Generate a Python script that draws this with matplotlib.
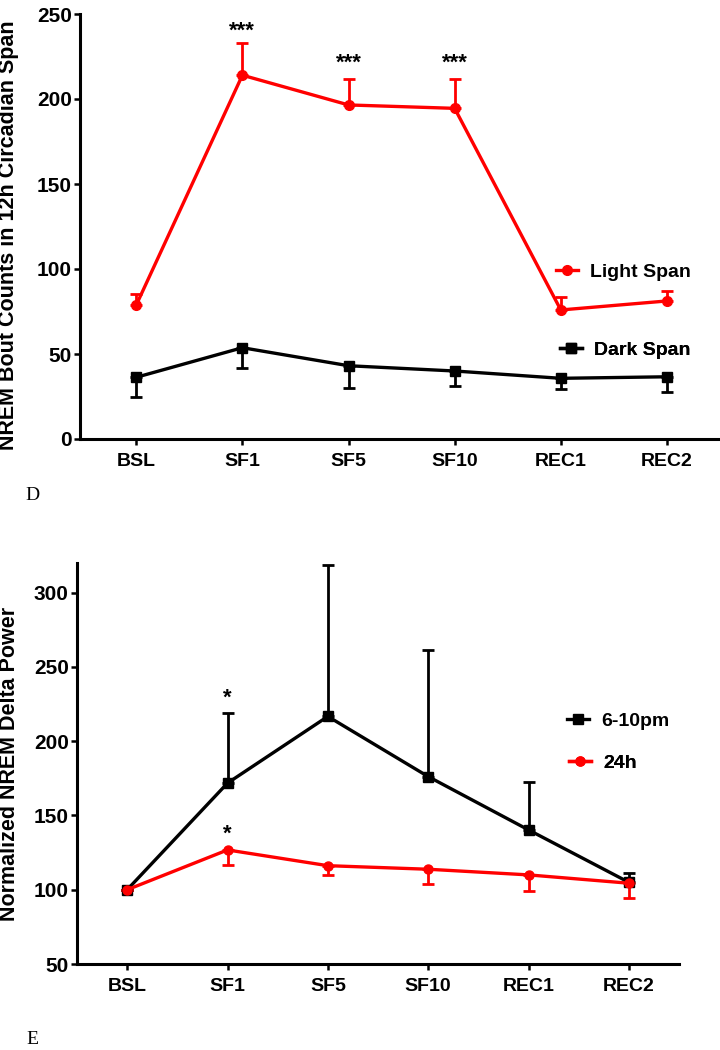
import matplotlib
matplotlib.use("Agg")
import matplotlib.pyplot as plt
from matplotlib.lines import Line2D

plt.rcParams['font.family'] = ['Liberation Sans', 'DejaVu Sans']
plt.rcParams['font.weight'] = 'bold'

categories = ["BSL", "SF1", "SF5", "SF10", "REC1", "REC2"]

# Panel D
light_mean = [78.8, 214.0, 196.5, 194.5, 75.9, 81.2]
light_err_up = [6.5, 18.7, 15.5, 17.5, 7.4, 5.8]
dark_mean = [36.3, 53.7, 43.1, 40.0, 35.7, 36.6]
dark_err_dn = [11.8, 11.8, 13.3, 8.8, 6.5, 9.1]
d_yticks = [0, 50, 100, 150, 200, 250]
d_stars = ["", "***", "***", "***", "", ""]
d_star_y = [None, 236.5, 218.0, 218.0, None, None]

# Panel E
pm_mean = [100.0, 171.8, 216.7, 176.2, 140.3, 105.0]
pm_err_up = [0.0, 47.1, 102.2, 84.9, 32.1, 6.1]
h24_mean = [100.0, 126.8, 116.2, 113.8, 110.0, 104.4]
h24_err_dn = [0.0, 10.1, 6.2, 9.9, 10.8, 10.1]
e_yticks = [50, 100, 150, 200, 250, 300]
e_star_pm_y = 225.0
e_star_24_y = 134.0

RED = "#ff0000"
BLACK = "#000000"

W, H = 720, 1050
fig = plt.figure(figsize=(W / 100, H / 100), dpi=100)


def fx(px):
    return px / W


def fy(py):
    return 1 - py / H


def style_axes(ax):
    for s in ["top", "right"]:
        ax.spines[s].set_visible(False)
    for s in ["left", "bottom"]:
        ax.spines[s].set_linewidth(2.2)
    ax.tick_params(axis="both", width=1.8, length=4, direction="out")
    ax.tick_params(axis="y", pad=2, labelsize=15)
    ax.tick_params(axis="x", pad=6, labelsize=14)
    for lab in ax.get_xticklabels() + ax.get_yticklabels():
        lab.set_fontweight("bold")


x = list(range(len(categories)))

# ---------- Panel D ----------
axD = fig.add_axes([fx(80), fy(439), fx(720) - fx(80), fy(14) - fy(439)])
axD.errorbar(x, light_mean, yerr=[[0] * 6, light_err_up], fmt="none",
             ecolor=RED, elinewidth=2.0, capsize=4.5, capthick=2.0, zorder=2)
axD.errorbar(x, dark_mean, yerr=[dark_err_dn, [0] * 6], fmt="none",
             ecolor=BLACK, elinewidth=2.0, capsize=4.5, capthick=2.0, zorder=2)
axD.plot(x, light_mean, color=RED, lw=2.4, marker="o", ms=7, zorder=3,
         label="Light Span")
axD.plot(x, dark_mean, color=BLACK, lw=2.4, marker="s", ms=6.5, zorder=3,
         label="Dark Span")
for xi, s, yv in zip(x, d_stars, d_star_y):
    if s:
        axD.text(xi, yv, s, ha="center", va="baseline", fontsize=16,
                 fontweight="bold")
axD.set_xlim(-0.53, 5.5)
axD.set_ylim(0, 250)
axD.set_yticks(d_yticks)
axD.set_xticks(x)
axD.set_xticklabels(categories)
style_axes(axD)
axD.set_ylabel("NREM Bout Counts in 12h Circadian Span", fontsize=15.5,
               fontweight="bold")
axD.yaxis.set_label_coords(-0.095, 0.48)

h_light = Line2D([], [], color=RED, lw=2.4, marker="o", ms=7)
h_dark = Line2D([], [], color=BLACK, lw=2.4, marker="s", ms=6.5)
leg_kw = dict(frameon=False, loc="center left", borderpad=0, borderaxespad=0,
              handlelength=1.15, handletextpad=0.6, bbox_transform=fig.transFigure,
              prop={"weight": "bold", "size": 14})
l1 = axD.legend([h_light], ["Light Span"], bbox_to_anchor=(fx(556), fy(272)), **leg_kw)
axD.add_artist(l1)
l2 = axD.legend([h_dark], ["Dark Span"], bbox_to_anchor=(fx(560), fy(350)), **leg_kw)
axD.add_artist(l2)

# ---------- Panel E ----------
axE = fig.add_axes([fx(77), fy(964), fx(679) - fx(77), fy(563) - fy(964)])
axE.errorbar(x, pm_mean, yerr=[[0] * 6, pm_err_up], fmt="none",
             ecolor=BLACK, elinewidth=2.0, capsize=4.5, capthick=2.0, zorder=2)
axE.errorbar(x, h24_mean, yerr=[h24_err_dn, [0] * 6], fmt="none",
             ecolor=RED, elinewidth=2.0, capsize=4.5, capthick=2.0, zorder=2)
axE.plot(x, pm_mean, color=BLACK, lw=2.4, marker="s", ms=6.5, zorder=3,
         label="6-10pm")
axE.plot(x, h24_mean, color=RED, lw=2.4, marker="o", ms=6.5, zorder=4,
         label="24h")
axE.text(1, e_star_pm_y, "*", ha="center", va="baseline", fontsize=16, fontweight="bold")
axE.text(1, e_star_24_y, "*", ha="center", va="baseline", fontsize=16, fontweight="bold")
axE.set_xlim(-0.5, 5.5)
axE.set_ylim(50, 320)
axE.set_yticks(e_yticks)
axE.set_xticks(x)
axE.set_xticklabels(categories)
style_axes(axE)
axE.set_ylabel("Normalized NREM Delta Power", fontsize=15.5, fontweight="bold")
axE.yaxis.set_label_coords(-0.095, 0.5)

h_pm = Line2D([], [], color=BLACK, lw=2.4, marker="s", ms=6.5)
h_24 = Line2D([], [], color=RED, lw=2.4, marker="o", ms=6.5)
l3 = axE.legend([h_pm], ["6-10pm"], bbox_to_anchor=(fx(567), fy(721)), **leg_kw)
axE.add_artist(l3)
l4 = axE.legend([h_24], ["24h"], bbox_to_anchor=(fx(569), fy(763)), **leg_kw)
axE.add_artist(l4)

# Panel letters
fig.text(fx(32), fy(496), "D", family="Liberation Serif", fontsize=14,
         fontweight="normal", ha="center", va="center")
fig.text(fx(32), fy(1040), "E", family="Liberation Serif", fontsize=14,
         fontweight="normal", ha="center", va="center")

fig.savefig("out.png", dpi=100, facecolor="white")
